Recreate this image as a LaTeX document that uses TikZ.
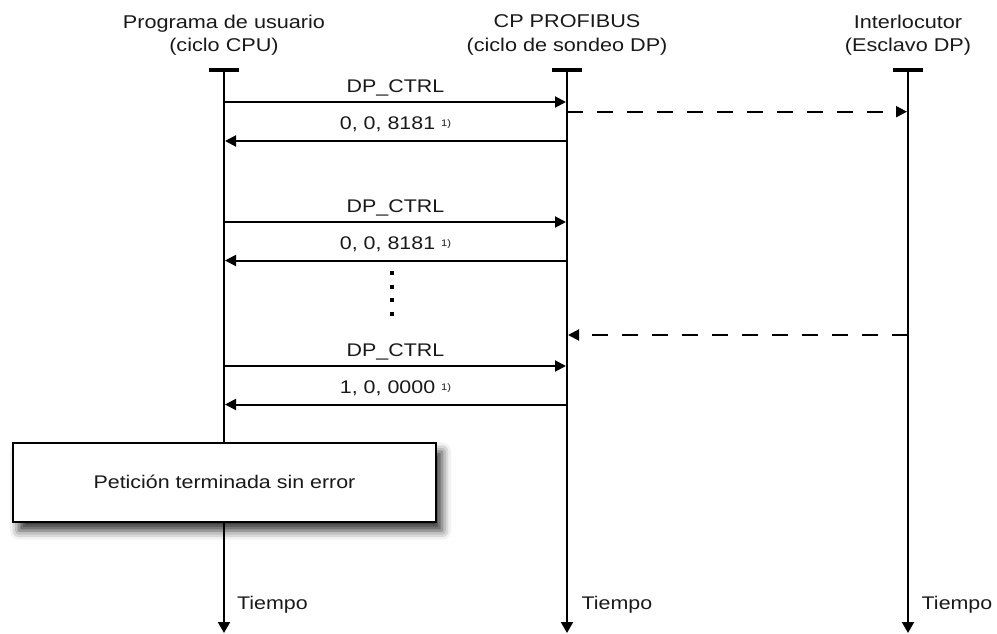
\documentclass[tikz,border=0pt]{standalone}
\usepackage{fontspec}
\setmainfont{Liberation Sans}[FakeStretch=1.17]
\usetikzlibrary{arrows.meta,shadows.blur}
\begin{document}
\begin{tikzpicture}[x=1pt,y=-1pt,
  hdr/.style={font=\fontsize{18.5}{23.4}\selectfont, align=center, inner sep=0pt, anchor=north, text=black!90},
  lbl/.style={font=\fontsize{18.3}{21}\selectfont, inner sep=0pt, anchor=base, text=black!90},
  tbar/.style={fill=black, draw=none, minimum width=30pt, minimum height=4pt, inner sep=0pt},
  life/.style={line width=2.2pt, -{Triangle[length=11pt,width=12pt]}},
  msg/.style={line width=2pt, shorten >=1pt, -{Triangle[length=11pt,width=11pt]}},
  dmsg/.style={msg, dash pattern=on 16pt off 14pt},
  dots/.style={line width=4pt, dash pattern=on 4pt off 9.4pt},
  box/.style={draw, line width=2pt, fill=white, minimum width=423pt, minimum height=79pt,
    inner sep=0pt, font=\fontsize{18.3}{21}\selectfont, text=black!90,
    blur shadow={shadow xshift=6pt, shadow yshift=-9pt, shadow blur radius=9pt, shadow opacity=80}}]
\useasboundingbox (0,0) rectangle (997,634);

% headers
\node[hdr] (hL) at (224,14.8) {Programa de usuario\\(ciclo CPU)};
\node[hdr] (hM) at (567,14.8) {CP PROFIBUS\\(ciclo de sondeo DP)};
\node[hdr] (hR) at (908,14.8) {Interlocutor\\(Esclavo DP)};

% T bars
\node[tbar] (tL) at (224,70.3) {};
\node[tbar] (tM) at (567,70.3) {};
\node[tbar] (tR) at (908,70.3) {};

% lifeline ends
\coordinate (eL) at (224,633);
\coordinate (eM) at (567,633);
\coordinate (eR) at (908,633);
\draw[life] (tL.center) -- (eL);
\draw[life] (tM.center) -- (eM);
\draw[life] (tR.center) -- (eR);

% message points
\coordinate (L1) at (224,102);   \coordinate (M1) at (567,102);
\coordinate (L2) at (224,141);   \coordinate (M2) at (567,141);
\coordinate (M3) at (567,111.7); \coordinate (R3) at (908,111.7);
\coordinate (L4) at (224,222);   \coordinate (M4) at (567,222);
\coordinate (L5) at (224,260.5); \coordinate (M5) at (567,260.5);
\coordinate (R6) at (908,335);   \coordinate (M6) at (567,335);
\coordinate (L7) at (224,366);   \coordinate (M7) at (567,366);
\coordinate (L8) at (224,404.5); \coordinate (M8) at (567,404.5);

\draw[msg] (L1) -- (M1) node[lbl, midway, yshift=9.3pt] {DP\_CTRL};
\draw[msg] (M2) -- (L2) node[lbl, midway, yshift=11.4pt] {0, 0, 8181\hspace{6pt}\raisebox{3pt}{\fontsize{9.5}{10}\selectfont 1)}};
\draw[dmsg] (M3) -- (R3);
\draw[msg] (L4) -- (M4) node[lbl, midway, yshift=9.3pt] {DP\_CTRL};
\draw[msg] (M5) -- (L5) node[lbl, midway, yshift=11.4pt] {0, 0, 8181\hspace{6pt}\raisebox{3pt}{\fontsize{9.5}{10}\selectfont 1)}};
\draw[dmsg] (R6) -- (M6);
\draw[msg] (L7) -- (M7) node[lbl, midway, yshift=9.3pt] {DP\_CTRL};
\draw[msg] (M8) -- (L8) node[lbl, midway, yshift=10.8pt] {1, 0, 0000\hspace{6pt}\raisebox{3pt}{\fontsize{9.5}{10}\selectfont 1)}};

% ellipsis dots
\coordinate (d1) at (392,271.3);
\coordinate (d2) at (392,316);
\draw[dots] (d1) -- (d2);

% result box
\node[box] (done) at (224.5,482.2) {Petición terminada sin error};

% time labels
\node[lbl, anchor=base west] (tiL) at (237,609.5) {Tiempo};
\node[lbl, anchor=base west] (tiM) at (581.5,609.5) {Tiempo};
\node[lbl, anchor=base west] (tiR) at (921.5,609.5) {Tiempo};
\end{tikzpicture}
\end{document}
